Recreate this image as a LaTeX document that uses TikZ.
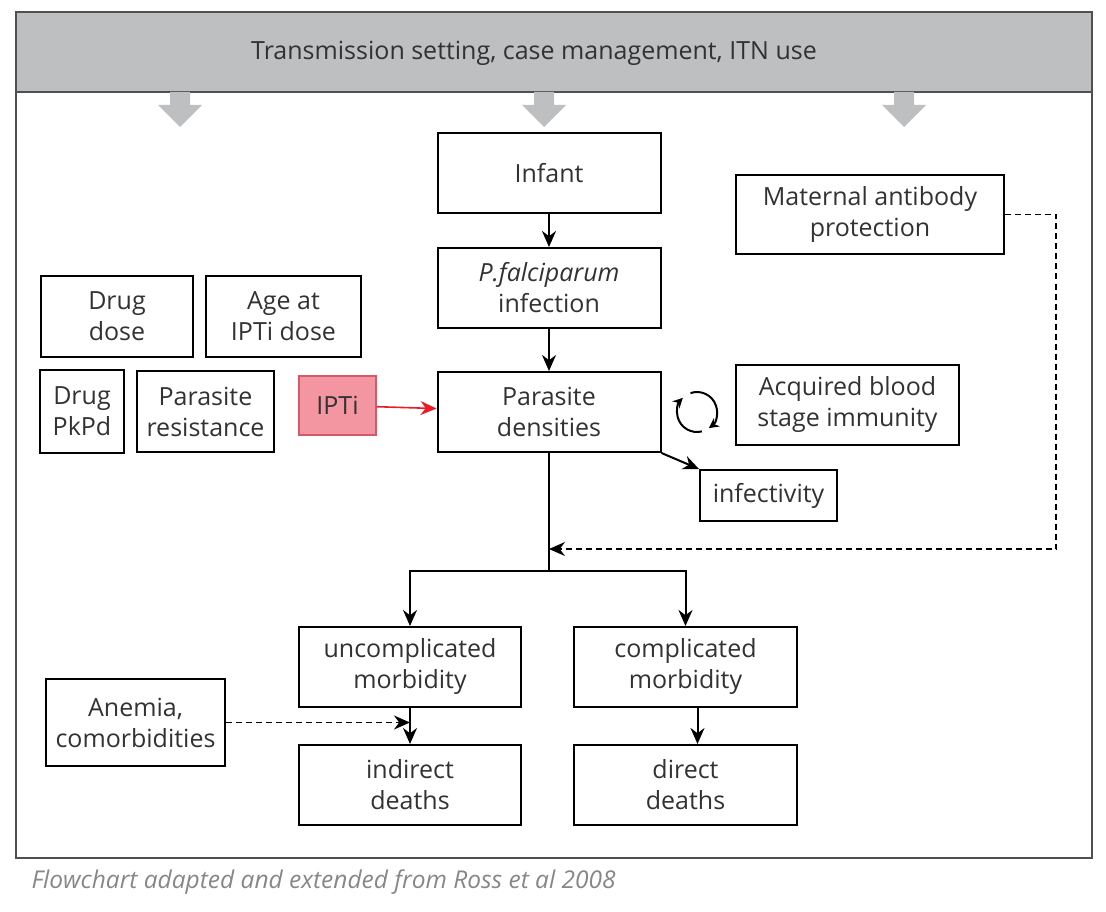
\documentclass[tikz,border=0pt]{standalone}
\usepackage{fontspec}
\setmainfont{Open Sans}
\usepackage{tikz}
\usetikzlibrary{arrows.meta, positioning, calc}
\definecolor{bannergray}{RGB}{190,191,193}
\definecolor{framegray}{RGB}{80,80,80}
\definecolor{textgray}{RGB}{50,50,50}
\definecolor{iptifill}{RGB}{244,150,162}
\definecolor{iptiedge}{RGB}{212,90,106}
\definecolor{iptired}{RGB}{236,28,36}
\definecolor{captiongray}{RGB}{135,135,135}
\tikzset{
  mybox/.style={
    draw=black,
    line width=2pt,
    align=center,
    inner sep=0pt,
    text=textgray,
    font=\fontsize{25}{31}\selectfont
  },
  wide/.style={mybox, minimum width=223pt, minimum height=80pt},
  ipti/.style={mybox, line width=1.5pt, draw=iptiedge, fill=iptifill},
  arr/.style={-{Stealth[length=16pt,width=14pt]}, line width=2pt},
  dasharr/.style={arr, line width=1.5pt, dash pattern=on 6pt off 4pt},
  iptiarr/.style={arr, draw=iptired, line width=1.6pt},
  cyclearr/.style={-{Stealth[length=10pt,width=10pt]}, line width=2pt}
}

\begin{document}
\begin{tikzpicture}[x=1pt, y=-1pt]
\useasboundingbox (0,0) rectangle (1106,912);

% Frame and banner
\node[draw=framegray, line width=1.2pt, minimum width=1076pt, minimum height=846pt, inner sep=0pt] (frame) at (554,435) {};
\node[draw=framegray, fill=bannergray, line width=1.2pt, minimum width=1076pt, minimum height=80pt, inner sep=0pt] (banner) at (554,52) {};
\node[text=textgray, font=\fontsize{25}{31}\selectfont] (bannertext) at (534,53) {Transmission setting, case management, ITN use};

\fill[bannergray] (180,92) ++(-10,0) -- ++(20,0) -- ++(0,13) -- ++(12,0) -- ++(-22,22) -- ++(-22,-22) -- ++(12,0) -- cycle;
\fill[bannergray] (544,92) ++(-10,0) -- ++(20,0) -- ++(0,13) -- ++(12,0) -- ++(-22,22) -- ++(-22,-22) -- ++(12,0) -- cycle;
\fill[bannergray] (904,92) ++(-10,0) -- ++(20,0) -- ++(0,13) -- ++(12,0) -- ++(-22,22) -- ++(-22,-22) -- ++(12,0) -- cycle;

% Main chain
\node[wide] (infant) at (549,173) {Infant};
\node[wide, below=33pt of infant] (pf) {\textit{P.falciparum}\\infection};
\node[wide, below=42pt of pf] (dens) {Parasite\\densities};

\draw[arr] (infant) -- (pf);
\draw[arr] (pf) -- (dens);

% Right side
\node[mybox, minimum width=268pt, minimum height=79pt] (mat) at (870,214.5) {Maternal antibody\\protection};
\node[wide] (immune) at (847.5,405) {Acquired blood\\stage immunity};
\node[mybox, minimum width=137pt, minimum height=51pt] (infect) at (768.5,495.5) {infectivity};

\draw[arr] (dens.south east) -- (infect.north west);

% Immunity cycle
\begin{scope}[shift={(697,412)}, y=1pt]
\draw[cyclearr] (109:20) arc[start angle=109, end angle=-54, radius=20];
\draw[cyclearr] (284:20) arc[start angle=284, end angle=135, radius=20];
\end{scope}

% Left side
\node[mybox, minimum width=152pt, minimum height=81pt] (drugdose) at (117,316.5) {Drug\\dose};
\node[mybox, minimum width=155pt, minimum height=81pt, right=11pt of drugdose] (agedose) {Age at\\IPTi dose};
\node[mybox, minimum width=84pt, minimum height=83pt] (pkpd) at (82,411.5) {Drug\\PkPd};
\node[mybox, minimum width=137pt, minimum height=81pt, right=11pt of pkpd] (resist) {Parasite\\resistance};
\node[ipti, minimum width=77pt, minimum height=59pt] (ipti) at (337.5,405.5) {IPTi};

\draw[iptiarr] (ipti) -- (dens);

% Outcomes
\coordinate[below=118pt of dens.south] (split);
\coordinate[above=22pt of split] (join);
\node[wide, minimum width=222pt] (uncomp) at (410,667) {uncomplicated\\morbidity};
\node[wide] (comp) at (685.5,667) {complicated\\morbidity};
\node[wide, minimum width=222pt, below=36pt of uncomp] (indirect) {indirect\\deaths};
\node[wide, below=36pt of comp] (direct) {direct\\deaths};
\node[mybox, minimum width=179pt, minimum height=87pt] (anemia) at (135.5,722.5) {Anemia,\\comorbidities};

\draw[line width=2pt] (dens.south) -- (split);
\draw[arr] (split) -| (uncomp.north);
\draw[arr] (split) -| (comp.north);
\draw[dasharr] (mat.east) -- ++(51,0) |- (join);
\draw[arr] (uncomp) -- (indirect);
\draw[arr] ($(comp.south)+(12,0)$) -- ($(direct.north)+(12,0)$);
\draw[dasharr] (anemia.east) -- (anemia.east -| uncomp.south);

% Caption
\node[anchor=west, text=captiongray, font=\fontsize{24.5}{28}\selectfont\itshape] (caption) at (28,882) {Flowchart adapted and extended from Ross et al 2008};

\end{tikzpicture}
\end{document}
